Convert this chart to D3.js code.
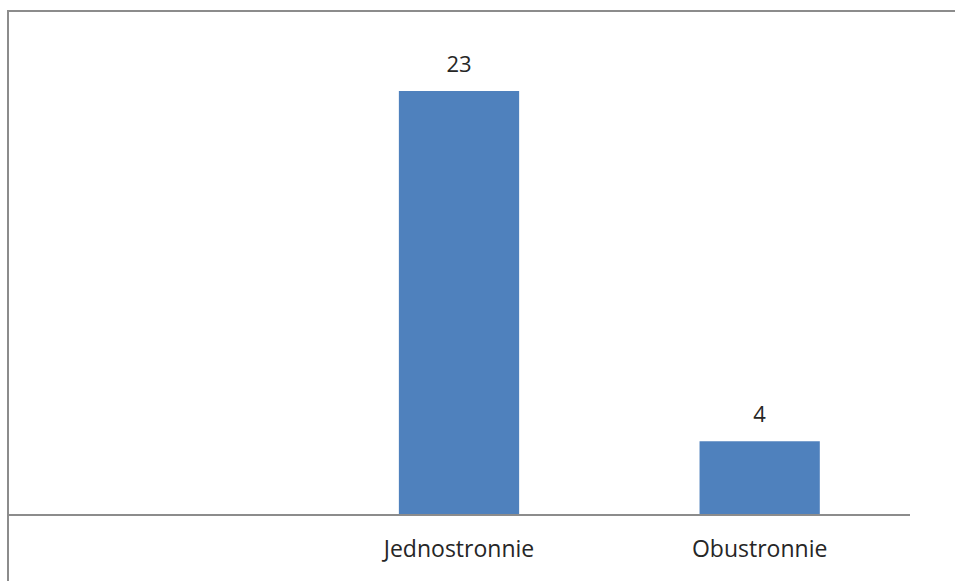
<!DOCTYPE html>
<html>
<head>
<meta charset="utf-8">
<script src="https://cdn.jsdelivr.net/npm/d3@7"></script>
<style>
  html, body { margin: 0; padding: 0; background: #fff; }
  svg { display: block; }
  text { font-family: "Open Sans", Lato, sans-serif; fill: #262626; }
</style>
</head>
<body>
<svg id="chart" width="955" height="581"></svg>
<script>
// Number of responses per category (first category has no label and no value)
const categories = ["", "Jednostronnie", "Obustronnie"];
const values = [null, 23, 4];

const svg = d3.select("#chart");

// Plot area
const plot = { left: 8, right: 910, top: 11, baseline: 515 };

const x = d3.scaleBand()
  .domain(categories.map((c, i) => i))
  .range([plot.left, plot.right])
  .paddingInner(0.6)
  .paddingOuter(0.3);

const y = d3.scaleLinear()
  .domain([0, 23])
  .range([plot.baseline, 91]);

// Outer chart frame (top and left edges)
svg.append("path")
  .attr("d", `M8,581 L8,11 L955,11`)
  .attr("fill", "none")
  .attr("stroke", "#8c8c8c")
  .attr("stroke-width", 2);

// Bars
const data = categories.map((c, i) => ({ i, c, v: values[i] })).filter(d => d.v != null);

svg.append("g").selectAll("rect")
  .data(data)
  .join("rect")
  .attr("x", d => x(d.i))
  .attr("width", x.bandwidth())
  .attr("y", d => y(d.v))
  .attr("height", d => y(0) - y(d.v))
  .attr("fill", "#4f81bd");

// Value labels
svg.append("g").selectAll("text")
  .data(data)
  .join("text")
  .attr("x", d => x(d.i) + x.bandwidth() / 2)
  .attr("y", d => y(d.v) - 19)
  .attr("text-anchor", "middle")
  .attr("font-size", 22)
  .text(d => d.v);

// Category axis
const xAxis = d3.axisBottom(x)
  .tickSize(0)
  .tickPadding(42)
  .tickFormat(i => categories[i]);

const gx = svg.append("g")
  .attr("transform", `translate(0,${plot.baseline})`)
  .call(xAxis);

gx.select(".domain")
  .attr("stroke", "#8c8c8c")
  .attr("stroke-width", 2)
  .attr("d", `M${plot.left},0H${plot.right}`);

gx.selectAll(".tick text")
  .attr("font-size", 23)
  .attr("font-family", "'Open Sans', Lato, sans-serif")
  .attr("fill", "#262626")
  .attr("dy", 0);
</script>
</body>
</html>
